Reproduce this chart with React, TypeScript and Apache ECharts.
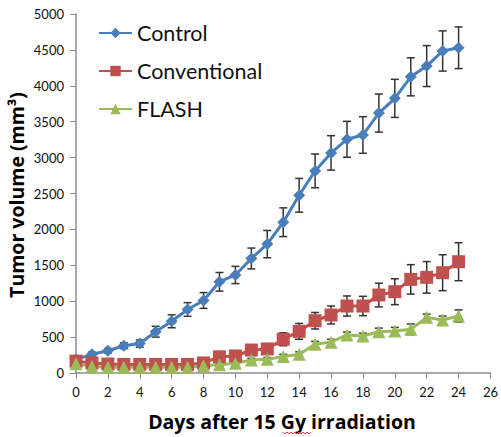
import React, { useEffect, useRef } from "react";
import * as echarts from "echarts";

const days = [0, 1, 2, 3, 4, 5, 6, 7, 8, 9, 10, 11, 12, 13, 14, 15, 16, 17, 18, 19, 20, 21, 22, 23, 24];
const control = [190, 260, 310, 380, 410, 575, 720, 885, 1010, 1270, 1365, 1595, 1795, 2100, 2475, 2815, 3065, 3255, 3315, 3620, 3825, 4125, 4275, 4485, 4530];
const controlErr = [30, 30, 30, 40, 50, 75, 90, 95, 110, 130, 120, 145, 190, 200, 235, 235, 240, 250, 255, 265, 265, 265, 285, 280, 290];
const conventional = [165, 140, 125, 120, 120, 120, 120, 120, 140, 225, 237, 320, 335, 470, 580, 728, 808, 933, 933, 1086, 1132, 1304, 1332, 1397, 1550];
const conventionalErr = [20, 20, 15, 15, 15, 15, 15, 15, 20, 30, 30, 40, 50, 90, 110, 115, 125, 140, 135, 165, 180, 205, 220, 250, 265];
const flash = [130, 90, 80, 80, 80, 80, 80, 80, 100, 115, 135, 180, 190, 230, 260, 400, 430, 530, 515, 575, 585, 608, 775, 738, 794];
const flashErr = [15, 10, 10, 10, 10, 10, 10, 10, 15, 20, 20, 25, 25, 30, 35, 40, 40, 40, 40, 50, 50, 75, 45, 55, 85];
const seriesNames = ["Control", "Conventional", "FLASH"];
const xTitle = "Days after 15 Gy irradiation";
const yTitle = "Tumor volume (mm³)";

const FONT = "Lato, 'Open Sans', sans-serif";
const TITLE_FONT = "'Open Sans', Lato, sans-serif";
const colors = ["#4A7EBB", "#C0504D", "#9BBB59"];

function errData(vals: number[], errs: number[]) {
  return days.map((d, i) => [d, vals[i] - errs[i], vals[i] + errs[i]]);
}

function errorSeries(vals: number[], errs: number[]) {
  return {
    type: "custom",
    silent: true,
    z: 1,
    data: errData(vals, errs),
    renderItem: (params: any, api: any) => {
      const x = api.value(0);
      const lo = api.coord([x, api.value(1)]);
      const hi = api.coord([x, api.value(2)]);
      const hw = 4;
      const style = { stroke: "#333", lineWidth: 1.5 };
      return {
        type: "group",
        children: [
          { type: "line", shape: { x1: lo[0], y1: lo[1], x2: hi[0], y2: hi[1] }, style },
          { type: "line", shape: { x1: lo[0] - hw, y1: lo[1], x2: lo[0] + hw, y2: lo[1] }, style },
          { type: "line", shape: { x1: hi[0] - hw, y1: hi[1], x2: hi[0] + hw, y2: hi[1] }, style },
        ],
      };
    },
  };
}

function lineSeries(name: string, vals: number[], color: string, symbol: string, size: number) {
  return {
    name,
    type: "line",
    z: 3,
    data: days.map((d, i) => [d, vals[i]]),
    symbol,
    symbolSize: size,
    showSymbol: true,
    lineStyle: { color, width: 3 },
    itemStyle: { color, borderWidth: 0 },
  };
}

export default function App() {
  const ref = useRef<HTMLDivElement>(null);
  useEffect(() => {
    if (!ref.current) return;
    const chart = echarts.init(ref.current, null, { renderer: "svg" });
    chart.setOption({
      animation: false,
      backgroundColor: "#ffffff",
      grid: { left: 76, right: 10, top: 14, bottom: 64, containLabel: false },
      legend: {
        orient: "vertical",
        left: 93,
        top: 17,
        itemGap: 16,
        itemWidth: 33,
        itemHeight: 13,
        textStyle: { fontFamily: FONT, fontSize: 21.5, color: "#111" },
        data: seriesNames,
      },
      xAxis: {
        type: "value",
        min: 0,
        max: 26,
        interval: 2,
        axisLine: { show: true, lineStyle: { color: "#8c8c8c", width: 1.5 } },
        axisTick: { show: true, length: 6, inside: false, lineStyle: { color: "#8c8c8c" } },
        axisLabel: { fontFamily: FONT, fontSize: 13, color: "#111", margin: 12 },
        splitLine: { show: false },
      },
      yAxis: {
        type: "value",
        min: 0,
        max: 5000,
        interval: 500,
        axisLine: { show: true, lineStyle: { color: "#8c8c8c", width: 1.5 } },
        axisTick: { show: true, length: 6, inside: false, lineStyle: { color: "#8c8c8c" } },
        axisLabel: {
          fontFamily: FONT,
          fontSize: 13,
          color: "#111",
          margin: 12,
          formatter: (v: number) => String(v),
        },
        splitLine: { show: false },
      },
      graphic: [
        {
          type: "text",
          x: 282,
          y: 421,
          style: {
            text: xTitle,
            fontFamily: TITLE_FONT,
            fontSize: 19.5,
            fontWeight: "bold",
            fill: "#000",
            align: "center",
            verticalAlign: "middle",
          },
        },
        {
          type: "polyline",
          shape: {
            points: [
              [283, 432], [285, 434], [287, 432], [289, 434], [291, 432], [293, 434], [295, 432],
              [297, 434], [299, 432], [301, 434], [303, 432], [305, 434], [307, 432], [309, 434], [311, 432],
            ],
          },
          style: { stroke: "#e04040", lineWidth: 1, fill: "none" },
        },
        {
          type: "text",
          x: 16,
          y: 195,
          rotation: Math.PI / 2,
          style: {
            text: yTitle,
            fontFamily: TITLE_FONT,
            fontSize: 19.5,
            fontWeight: "bold",
            fill: "#000",
            align: "center",
            verticalAlign: "middle",
          },
        },
      ],
      series: [
        errorSeries(control, controlErr),
        errorSeries(conventional, conventionalErr),
        errorSeries(flash, flashErr),
        lineSeries(seriesNames[0], control, colors[0], "diamond", 12),
        lineSeries(seriesNames[1], conventional, colors[1], "rect", 13),
        lineSeries(seriesNames[2], flash, colors[2], "triangle", 13),
      ],
    });
    return () => chart.dispose();
  }, []);
  return (
    <div
      ref={ref}
      style={{ position: "fixed", left: 0, top: 0, width: 501, height: 437, background: "#fff" }}
    />
  );
}
